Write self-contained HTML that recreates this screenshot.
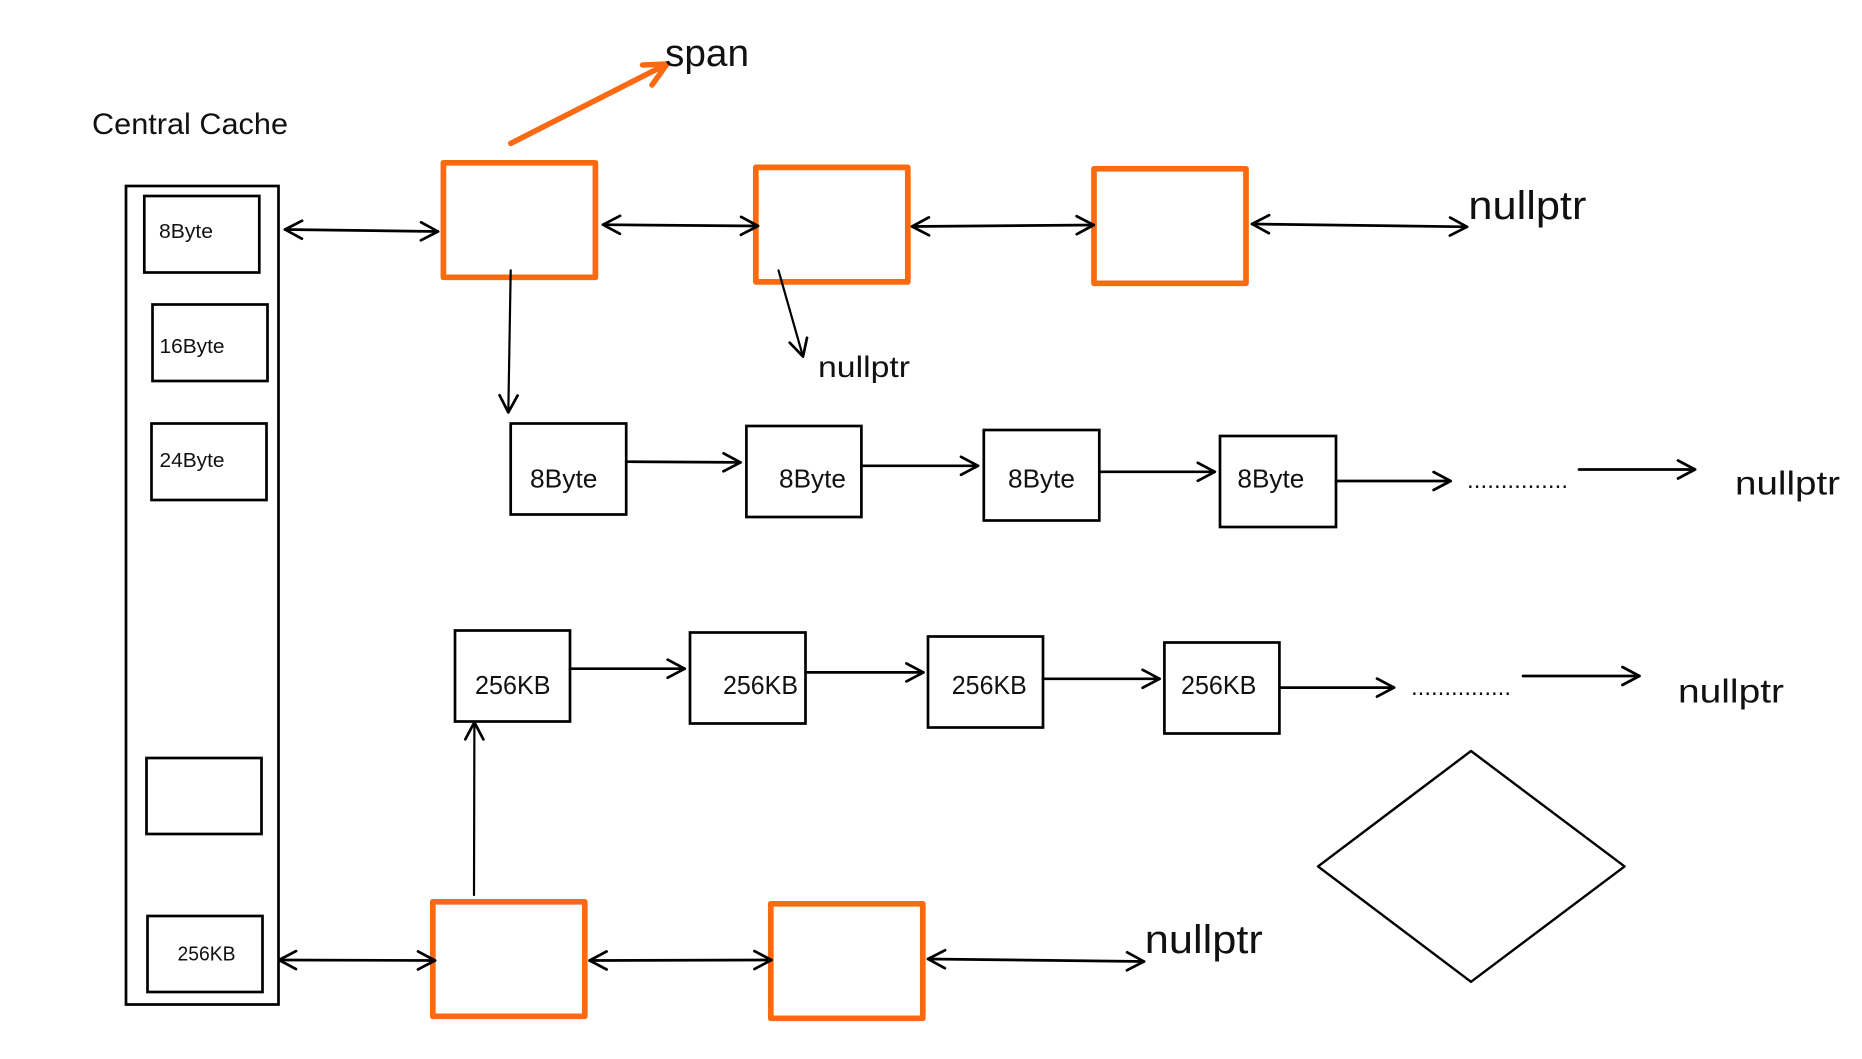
<!DOCTYPE html>
<html>
<head>
<meta charset="utf-8">
<title>Central Cache</title>
<style>
html,body{margin:0;padding:0;background:#fff;}
svg{display:block;}
text{font-family:"Liberation Sans",sans-serif;fill:#111;}
.b{fill:#fff;stroke:#000;stroke-width:2.7;}
.o{fill:#fff;stroke:#fb6a10;stroke-width:5.7;stroke-linejoin:round;}
.a{fill:none;stroke:#000;stroke-width:2.7;stroke-linecap:round;marker-end:url(#h);}
.d{marker-start:url(#hs);}
.t{stroke-width:2.2;}
</style>
</head>
<body>
<svg xmlns="http://www.w3.org/2000/svg" width="1862" height="1059" viewBox="0 0 1862 1059">
<defs>
<marker id="h" markerUnits="userSpaceOnUse" markerWidth="24" markerHeight="24" viewBox="-20 -12 24 24" refX="0" refY="0" orient="auto"><path d="M-17,-9 L0,0 L-17,9" fill="none" stroke="#000" stroke-width="2.7" stroke-linecap="round" stroke-linejoin="round"/></marker>
<marker id="hs" markerUnits="userSpaceOnUse" markerWidth="24" markerHeight="24" viewBox="-4 -12 24 24" refX="0" refY="0" orient="auto"><path d="M17,-9 L0,0 L17,9" fill="none" stroke="#000" stroke-width="2.7" stroke-linecap="round" stroke-linejoin="round"/></marker>
</defs>
<rect width="1862" height="1059" fill="#fff"/>

<!-- Central cache column -->
<rect class="b" x="126" y="186" width="152.500" height="818.500"/>
<rect class="b" x="144.300" y="196" width="115" height="76.500"/>
<rect class="b" x="152.500" y="304.500" width="115" height="76.500"/>
<rect class="b" x="151.500" y="423.500" width="115" height="76.500"/>
<rect class="b" x="146.500" y="758" width="115" height="76"/>
<rect class="b" x="147.500" y="916" width="115" height="76"/>

<!-- Span boxes -->
<rect class="o" x="443.400" y="162.800" width="152" height="114.500"/>
<rect class="o" x="755.800" y="167.400" width="152" height="114.500"/>
<rect class="o" x="1094" y="168.800" width="152" height="114.500"/>
<rect class="o" x="432.800" y="901.800" width="152" height="114.500"/>
<rect class="o" x="770.800" y="903.800" width="152" height="114.500"/>

<!-- Chain boxes -->
<rect class="b" x="510.700" y="423.500" width="115.500" height="91"/>
<rect class="b" x="746.400" y="426" width="115" height="91"/>
<rect class="b" x="983.800" y="430" width="115.500" height="90.500"/>
<rect class="b" x="1220" y="436" width="116" height="91"/>
<rect class="b" x="455" y="630.500" width="115" height="91"/>
<rect class="b" x="690" y="632.500" width="115.500" height="91"/>
<rect class="b" x="928" y="636.500" width="115" height="91"/>
<rect class="b" x="1164.400" y="642.500" width="115" height="91"/>

<!-- Diamond -->
<polygon points="1471,751 1624.600,866.400 1471,981.800 1318,866.400" fill="#fff" stroke="#000" stroke-width="2.400" stroke-linejoin="round"/>

<!-- Orange arrow -->
<path d="M510.700,143.400 L667,64" fill="none" stroke="#fb6a10" stroke-width="5.500" stroke-linecap="round"/>
<path d="M642.500,65 L667,64 L652,85" fill="none" stroke="#fb6a10" stroke-width="5.500" stroke-linecap="round" stroke-linejoin="round"/>

<!-- Double-headed arrows -->
<line class="a d" x1="285" y1="229.500" x2="438" y2="231.500"/>
<line class="a d" x1="603" y1="224.700" x2="758" y2="226"/>
<line class="a d" x1="912" y1="226.500" x2="1093.700" y2="225"/>
<line class="a d" x1="1252" y1="224" x2="1467" y2="226.800"/>
<line class="a d" x1="279" y1="960" x2="435" y2="960.500"/>
<line class="a d" x1="589.600" y1="960.500" x2="771.400" y2="960"/>
<line class="a d" x1="928" y1="959" x2="1144" y2="961.500"/>

<!-- Single arrows -->
<line class="a t" x1="510.700" y1="270.400" x2="508.300" y2="412.400"/>
<line class="a t" x1="778.500" y1="270.400" x2="803" y2="356.600"/>
<line class="a t" x1="474" y1="895" x2="474.400" y2="722.300"/>
<line class="a" x1="626.500" y1="461.700" x2="740.500" y2="462.400"/>
<line class="a" x1="861.600" y1="465.800" x2="978" y2="465.800"/>
<line class="a" x1="1099.600" y1="471.800" x2="1214.800" y2="471.800"/>
<line class="a" x1="1336" y1="481" x2="1450.600" y2="481"/>
<line class="a" x1="1579" y1="469.500" x2="1695" y2="469.500"/>
<line class="a" x1="570" y1="668.700" x2="684.700" y2="668.700"/>
<line class="a" x1="805.800" y1="672.400" x2="923.400" y2="672.400"/>
<line class="a" x1="1043" y1="678.800" x2="1159.600" y2="678.800"/>
<line class="a" x1="1279.600" y1="687.600" x2="1394" y2="687.600"/>
<line class="a" x1="1523" y1="676" x2="1639.400" y2="676"/>

<!-- Labels -->
<text x="92" y="134" font-size="30" textLength="196" lengthAdjust="spacingAndGlyphs">Central Cache</text>
<text x="665" y="66" font-size="38" textLength="84" lengthAdjust="spacingAndGlyphs">span</text>
<text x="159" y="238" font-size="20" textLength="54" lengthAdjust="spacingAndGlyphs">8Byte</text>
<text x="159.500" y="353" font-size="20" textLength="65" lengthAdjust="spacingAndGlyphs">16Byte</text>
<text x="159.500" y="467" font-size="20" textLength="65" lengthAdjust="spacingAndGlyphs">24Byte</text>
<text x="177.500" y="960.500" font-size="20" textLength="58" lengthAdjust="spacingAndGlyphs">256KB</text>
<text x="818" y="377" font-size="30" textLength="92" lengthAdjust="spacingAndGlyphs">nullptr</text>
<text x="1468.400" y="219" font-size="40" textLength="118" lengthAdjust="spacingAndGlyphs">nullptr</text>
<text x="1735" y="494.500" font-size="33" textLength="105" lengthAdjust="spacingAndGlyphs">nullptr</text>
<text x="1678" y="702.400" font-size="33" textLength="106" lengthAdjust="spacingAndGlyphs">nullptr</text>
<text x="1144.800" y="952.800" font-size="40" textLength="118" lengthAdjust="spacingAndGlyphs">nullptr</text>
<text x="530" y="487.400" font-size="26" textLength="67.500" lengthAdjust="spacingAndGlyphs">8Byte</text>
<text x="779" y="487.400" font-size="26" textLength="67" lengthAdjust="spacingAndGlyphs">8Byte</text>
<text x="1008" y="487.400" font-size="26" textLength="67" lengthAdjust="spacingAndGlyphs">8Byte</text>
<text x="1237.400" y="487.400" font-size="26" textLength="67" lengthAdjust="spacingAndGlyphs">8Byte</text>
<text x="475" y="694" font-size="26" textLength="75.500" lengthAdjust="spacingAndGlyphs">256KB</text>
<text x="723" y="694" font-size="26" textLength="75" lengthAdjust="spacingAndGlyphs">256KB</text>
<text x="951.800" y="694" font-size="26" textLength="75" lengthAdjust="spacingAndGlyphs">256KB</text>
<text x="1181" y="694" font-size="26" textLength="75.400" lengthAdjust="spacingAndGlyphs">256KB</text>
<text x="1467" y="488" font-size="24" textLength="101" lengthAdjust="spacing">...............</text>
<text x="1411" y="695" font-size="24" textLength="100" lengthAdjust="spacing">...............</text>
</svg>
</body>
</html>
